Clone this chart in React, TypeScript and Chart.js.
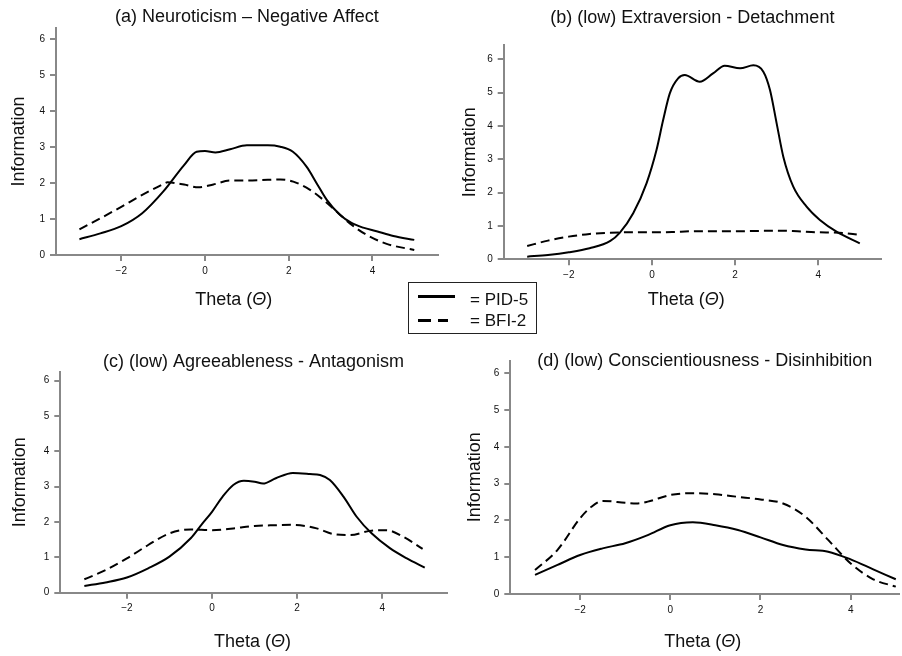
import React, { useEffect, useRef } from "react";
import { Chart, registerables } from "chart.js";

Chart.register(...registerables);

const FONT = "'Liberation Sans', Arial, Helvetica, sans-serif";

// ---------- data ----------
const seriesNames = ["PID-5", "BFI-2"];
const panelTitles = [
  "(a) Neuroticism \u2013 Negative Affect",
  "(b) (low) Extraversion - Detachment",
  "(c) (low) Agreeableness - Antagonism",
  "(d) (low) Conscientiousness - Disinhibition",
];
const yAxisTitle = "Information";
const xAxisTitleParts = ["Theta (", "\u0398", ")"];
const xTickValues = [-2, 0, 2, 4];
const yTickValues = [0, 1, 2, 3, 4, 5, 6];

// (a) Neuroticism – Negative Affect
const aPidTheta = [-3, -2.5, -2, -1.5, -1, -0.5, -0.2, 0, 0.25, 0.6, 1, 1.5, 1.8, 2.1, 2.43, 2.67, 2.91, 3.23, 3.5, 3.78, 4.1, 4.5, 5];
const aPidInfo = [0.44, 0.6, 0.8, 1.16, 1.76, 2.5, 2.87, 2.89, 2.85, 2.94, 3.05, 3.05, 3.01, 2.87, 2.45, 1.99, 1.53, 1.11, 0.89, 0.76, 0.66, 0.53, 0.42];
const aBfiTheta = [-3, -2.5, -2, -1.5, -1, -0.9, -0.5, -0.16, 0.2, 0.6, 1, 1.5, 1.8, 2.11, 2.51, 2.83, 3.15, 3.46, 3.86, 4.34, 5];
const aBfiInfo = [0.71, 1.02, 1.34, 1.67, 1.97, 2.02, 1.96, 1.88, 1.96, 2.07, 2.07, 2.09, 2.1, 2.04, 1.81, 1.53, 1.2, 0.88, 0.56, 0.31, 0.14];

// (b) (low) Extraversion - Detachment
const bPidTheta = [-3, -2.5, -2, -1.5, -1, -0.77, -0.45, -0.13, 0.11, 0.27, 0.43, 0.63, 0.79, 1.15, 1.47, 1.75, 2.12, 2.44, 2.68, 2.84, 3.0, 3.16, 3.4, 3.72, 4.04, 4.44, 5];
const bPidInfo = [0.08, 0.13, 0.21, 0.33, 0.55, 0.8, 1.38, 2.28, 3.28, 4.18, 4.98, 5.43, 5.53, 5.33, 5.58, 5.81, 5.73, 5.82, 5.63, 5.08, 4.08, 3.08, 2.18, 1.58, 1.18, 0.83, 0.48];
const bBfiTheta = [-3, -2.5, -2, -1.5, -1, -0.5, 0, 0.5, 1, 1.5, 2, 2.5, 3, 3.5, 4, 4.5, 5];
const bBfiInfo = [0.4, 0.56, 0.68, 0.76, 0.8, 0.81, 0.81, 0.82, 0.84, 0.84, 0.84, 0.85, 0.86, 0.84, 0.81, 0.8, 0.73];

// (c) (low) Agreeableness - Antagonism
const cPidTheta = [-3, -2.5, -2, -1.5, -1, -0.5, -0.25, 0, 0.25, 0.5, 0.75, 1, 1.2, 1.5, 1.9, 2.3, 2.54, 2.77, 3.09, 3.4, 3.75, 4.18, 4.58, 5];
const cPidInfo = [0.19, 0.29, 0.43, 0.69, 1.02, 1.54, 1.92, 2.29, 2.72, 3.05, 3.17, 3.14, 3.09, 3.24, 3.39, 3.36, 3.33, 3.19, 2.72, 2.15, 1.68, 1.26, 0.97, 0.71];
const cBfiTheta = [-3, -2.5, -2, -1.5, -1, -0.5, 0, 0.5, 1, 1.5, 1.9, 2.46, 2.85, 3.24, 3.71, 4.1, 4.5, 4.95];
const cBfiInfo = [0.38, 0.64, 0.97, 1.35, 1.68, 1.79, 1.77, 1.82, 1.89, 1.91, 1.92, 1.82, 1.66, 1.63, 1.75, 1.77, 1.58, 1.24];

// (d) (low) Conscientiousness - Disinhibition
const dPidTheta = [-3, -2.5, -2, -1.5, -1, -0.5, 0, 0.5, 1, 1.5, 2, 2.5, 3, 3.5, 4, 4.5, 5];
const dPidInfo = [0.52, 0.79, 1.06, 1.24, 1.38, 1.6, 1.87, 1.95, 1.87, 1.74, 1.54, 1.33, 1.21, 1.15, 0.94, 0.67, 0.4];
const dBfiTheta = [-3, -2.5, -2, -1.75, -1.5, -1, -0.75, -0.5, 0, 0.5, 1, 1.5, 2, 2.5, 3, 3.5, 4, 4.5, 5];
const dBfiInfo = [0.65, 1.2, 2.06, 2.37, 2.53, 2.48, 2.46, 2.51, 2.69, 2.74, 2.71, 2.64, 2.57, 2.46, 2.1, 1.47, 0.83, 0.4, 0.2];

// ---------- layout (positions / sizes only) ----------
type Spec = {
  title: string;
  pidT: number[];
  pidV: number[];
  bfiT: number[];
  bfiV: number[];
  xMin: number;
  xMax: number;
  yMax: number;
  left: number;
  top: number;
  width: number;
  height: number;
  padRight: number;
  titleTop: number;
  titleBottom: number;
  yw: number;
  yTitlePad: number;
  xh: number;
  xTitleY: number;
  xTitleDx: number;
};

const specs: Spec[] = [
  {
    title: panelTitles[0], pidT: aPidTheta, pidV: aPidInfo, bfiT: aBfiTheta, bfiV: aBfiInfo,
    xMin: -3.56, xMax: 5.56, yMax: 6.31,
    left: 0, top: 0, width: 445, height: 320, padRight: 7.3,
    titleTop: 8, titleBottom: 2, yw: 56, yTitlePad: 10, xh: 65, xTitleY: 300, xTitleDx: -13,
  },
  {
    title: panelTitles[1], pidT: bPidTheta, pidV: bPidInfo, bfiT: bBfiTheta, bfiV: bBfiInfo,
    xMin: -3.565, xMax: 5.51, yMax: 6.43,
    left: 451, top: 0, width: 451, height: 320, padRight: 21,
    titleTop: 9.3, titleBottom: 17.7, yw: 52.7, yTitlePad: 9.8, xh: 60.7, xTitleY: 300, xTitleDx: -6,
  },
  {
    title: panelTitles[2], pidT: cPidTheta, pidV: cPidInfo, bfiT: cBfiTheta, bfiV: cBfiInfo,
    xMin: -3.565, xMax: 5.516, yMax: 6.255,
    left: 0, top: 330, width: 451, height: 326, padRight: 4.3,
    titleTop: 22.7, titleBottom: 1, yw: 60.3, yTitlePad: 11.5, xh: 63.3, xTitleY: 311.7, xTitleDx: -1,
  },
  {
    title: panelTitles[3], pidT: dPidTheta, pidV: dPidInfo, bfiT: dBfiTheta, bfiV: dBfiInfo,
    xMin: -3.548, xMax: 5.078, yMax: 6.34,
    left: 451, top: 330, width: 451, height: 326, padRight: 2.7,
    titleTop: 22, titleBottom: -9.3, yw: 59.3, yTitlePad: 15, xh: 62, xTitleY: 311.7, xTitleDx: -2,
  },
];

const xTitlePlugin = {
  id: "xTitle",
  afterDraw(chart: any, _args: any, opts: any) {
    const { ctx, chartArea } = chart;
    const cx = (chartArea.left + chartArea.right) / 2 + (opts.dx || 0);
    const cy = opts.y;
    const fonts = [
      `normal 18px ${FONT}`,
      `italic 18px ${FONT}`,
      `normal 18px ${FONT}`,
    ];
    ctx.save();
    let total = 0;
    const widths = xAxisTitleParts.map((p, i) => {
      ctx.font = fonts[i];
      const w = ctx.measureText(p).width;
      total += w;
      return w;
    });
    let x = cx - total / 2;
    ctx.fillStyle = "#111";
    ctx.textBaseline = "middle";
    ctx.textAlign = "left";
    xAxisTitleParts.forEach((p, i) => {
      ctx.font = fonts[i];
      ctx.fillText(p, x, cy);
      x += widths[i];
    });
    ctx.restore();
  },
};

const fmt = (v: number) => (v < 0 ? "\u2212" + Math.abs(v) : String(v));

function Panel({ spec }: { spec: Spec }) {
  const ref = useRef<HTMLCanvasElement>(null);
  useEffect(() => {
    const canvas = ref.current;
    if (!canvas) return;
    const pts = (t: number[], v: number[]) => t.map((x, i) => ({ x, y: v[i] }));
    const axisColor = "#888";
    const tickFont = { family: FONT, size: 10 };
    const chart = new Chart(canvas, {
      type: "line",
      data: {
        datasets: [
          {
            label: seriesNames[0],
            data: pts(spec.pidT, spec.pidV),
            borderColor: "#000",
            borderWidth: 2,
            pointRadius: 0,
            fill: false,
            cubicInterpolationMode: "monotone",
          },
          {
            label: seriesNames[1],
            data: pts(spec.bfiT, spec.bfiV),
            borderColor: "#000",
            borderWidth: 2,
            borderDash: [9, 5],
            pointRadius: 0,
            fill: false,
            cubicInterpolationMode: "monotone",
          },
        ],
      },
      options: {
        responsive: false,
        animation: false,
        devicePixelRatio: 1,
        layout: { padding: { left: 0, top: 0, right: spec.padRight, bottom: 0 } },
        plugins: {
          legend: { display: false },
          tooltip: { enabled: false },
          title: {
            display: true,
            text: spec.title,
            fullSize: false,
            color: "#111",
            font: { family: FONT, size: 18, weight: "normal", lineHeight: 1 },
            padding: { top: spec.titleTop, bottom: spec.titleBottom },
          },
          xTitle: { y: spec.xTitleY, dx: spec.xTitleDx },
        } as any,
        scales: {
          x: {
            type: "linear",
            min: spec.xMin,
            max: spec.xMax,
            afterFit: (s: any) => {
              s.height = spec.xh;
            },
            afterBuildTicks: (s: any) => {
              s.ticks = xTickValues.map((v) => ({ value: v }));
            },
            ticks: {
              font: tickFont,
              color: "#111",
              padding: 4,
              maxRotation: 0,
              autoSkip: false,
              callback: (v: any) => fmt(Number(v)),
            },
            grid: { drawOnChartArea: false, drawTicks: true, tickLength: 6, color: axisColor, lineWidth: 2 },
            border: { display: true, color: axisColor, width: 2 },
          },
          y: {
            type: "linear",
            min: 0,
            max: spec.yMax,
            afterFit: (s: any) => {
              s.width = spec.yw;
            },
            afterBuildTicks: (s: any) => {
              s.ticks = yTickValues.map((v) => ({ value: v }));
            },
            ticks: {
              font: tickFont,
              color: "#111",
              padding: 5,
              autoSkip: false,
              callback: (v: any) => fmt(Number(v)),
            },
            grid: { drawOnChartArea: false, drawTicks: true, tickLength: 6, color: axisColor, lineWidth: 2 },
            border: { display: true, color: axisColor, width: 2 },
            title: {
              display: true,
              text: yAxisTitle,
              color: "#111",
              font: { family: FONT, size: 18, lineHeight: 1 },
              padding: { top: spec.yTitlePad, bottom: 0 },
            },
          },
        },
      } as any,
      plugins: [xTitlePlugin],
    });
    return () => chart.destroy();
  }, [spec]);
  return (
    <canvas
      ref={ref}
      width={spec.width}
      height={spec.height}
      style={{ position: "absolute", left: spec.left, top: spec.top, width: spec.width, height: spec.height }}
    />
  );
}

function Legend() {
  const text: React.CSSProperties = {
    position: "absolute",
    left: 470,
    fontFamily: FONT,
    fontSize: 17,
    lineHeight: "20px",
    color: "#111",
    whiteSpace: "nowrap",
  };
  return (
    <>
      <div
        style={{
          position: "absolute",
          left: 408,
          top: 282,
          width: 129,
          height: 52,
          border: "1.5px solid #222",
          boxSizing: "border-box",
        }}
      />
      <div style={{ position: "absolute", left: 418, top: 295.2, width: 37, height: 3, background: "#000" }} />
      <div style={{ position: "absolute", left: 418, top: 319.2, width: 12.5, height: 3, background: "#000" }} />
      <div style={{ position: "absolute", left: 437.5, top: 319.2, width: 10, height: 3, background: "#000" }} />
      <span style={{ ...text, top: 289.7 }}>= {seriesNames[0]}</span>
      <span style={{ ...text, top: 311.3 }}>= {seriesNames[1]}</span>
    </>
  );
}

export default function App() {
  return (
    <div style={{ position: "absolute", left: 0, top: 0, width: 902, height: 656, background: "#fff", overflow: "hidden" }}>
      {specs.map((s, i) => (
        <Panel key={i} spec={s} />
      ))}
      <Legend />
    </div>
  );
}
